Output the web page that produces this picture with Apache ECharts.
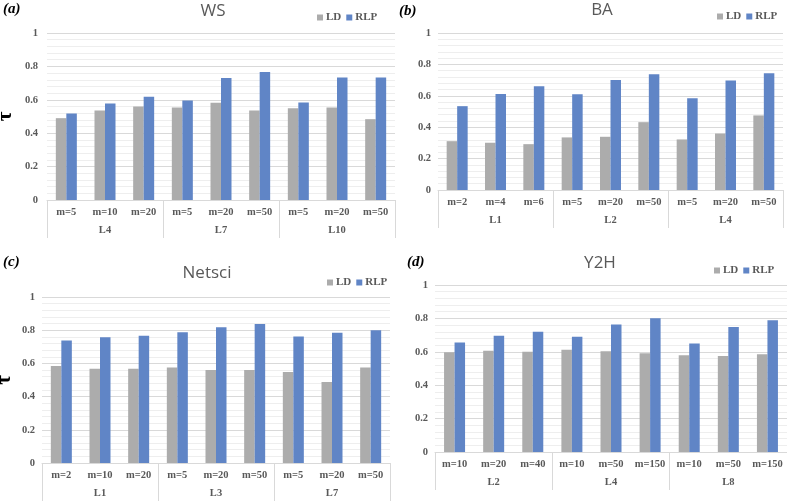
<!DOCTYPE html>
<html>
<head>
<meta charset="utf-8">
<script src="https://cdn.jsdelivr.net/npm/echarts@6/dist/echarts.min.js"></script>
<style>
html,body{margin:0;padding:0;background:#fff;}
#c{width:787px;height:502px;}
</style>
</head>
<body>
<div id="c"></div>
<script>
// ---- data ----
const seriesNames = ['LD', 'RLP'];
const yTicks = [0, 0.2, 0.4, 0.6, 0.8, 1];

const wsTitle = 'WS';
const wsCats = ['m=5', 'm=10', 'm=20', 'm=5', 'm=20', 'm=50', 'm=5', 'm=20', 'm=50'];
const wsGroups = ['L4', 'L7', 'L10'];
const wsLD = [0.490, 0.536, 0.560, 0.554, 0.582, 0.536, 0.550, 0.554, 0.484];
const wsRLP = [0.518, 0.578, 0.618, 0.596, 0.730, 0.766, 0.584, 0.734, 0.734];

const baTitle = 'BA';
const baCats = ['m=2', 'm=4', 'm=6', 'm=5', 'm=20', 'm=50', 'm=5', 'm=20', 'm=50'];
const baGroups = ['L1', 'L2', 'L4'];
const baLD = [0.311, 0.301, 0.292, 0.335, 0.339, 0.432, 0.322, 0.360, 0.475];
const baRLP = [0.534, 0.612, 0.661, 0.610, 0.701, 0.737, 0.585, 0.697, 0.744];

const nsTitle = 'Netsci';
const nsCats = ['m=2', 'm=10', 'm=20', 'm=5', 'm=20', 'm=50', 'm=5', 'm=20', 'm=50'];
const nsGroups = ['L1', 'L3', 'L7'];
const nsLD = [0.584, 0.568, 0.568, 0.576, 0.560, 0.560, 0.548, 0.488, 0.576];
const nsRLP = [0.738, 0.758, 0.766, 0.788, 0.818, 0.838, 0.762, 0.784, 0.800];

const y2Title = 'Y2H';
const y2Cats = ['m=10', 'm=20', 'm=40', 'm=10', 'm=50', 'm=150', 'm=10', 'm=50', 'm=150'];
const y2Groups = ['L2', 'L4', 'L8'];
const y2LD = [0.598, 0.606, 0.600, 0.612, 0.604, 0.592, 0.580, 0.575, 0.585];
const y2RLP = [0.656, 0.696, 0.720, 0.690, 0.763, 0.801, 0.650, 0.748, 0.789];

const panelLabels = ['(a)', '(b)', '(c)', '(d)'];

// ---- layout / style ----
const panels = [
  {title: wsTitle, cats: wsCats, groups: wsGroups, ld: wsLD, rlp: wsRLP, label: panelLabels[0],
   grid: {left: 47, top: 33, width: 348, height: 167}, ylm: 9, tau: true, tauGap: 31,
   titlePos: [213, 3], labelPos: [3, 2], legendPos: [317, 12]},
  {title: baTitle, cats: baCats, groups: baGroups, ld: baLD, rlp: baRLP, label: panelLabels[1],
   grid: {left: 438, top: 33, width: 345, height: 157}, ylm: 7, tau: false, tauGap: 30,
   titlePos: [602, 2], labelPos: [399, 4], legendPos: [717, 11]},
  {title: nsTitle, cats: nsCats, groups: nsGroups, ld: nsLD, rlp: nsRLP, label: panelLabels[2],
   grid: {left: 42, top: 297, width: 348, height: 166}, ylm: 7, tau: true, tauGap: 27,
   titlePos: [207, 265], labelPos: [3, 255], legendPos: [327, 277]},
  {title: y2Title, cats: y2Cats, groups: y2Groups, ld: y2LD, rlp: y2RLP, label: panelLabels[3],
   grid: {left: 435, top: 285, width: 352, height: 167}, ylm: 7, tau: false, tauGap: 30,
   titlePos: [600, 255], labelPos: [407, 255], legendPos: [714, 265]}
];

const LDcolor = '#acacac';
const RLPcolor = '#6085c6';
const txtColor = '#595959';
const serif = '"Liberation Serif", "DejaVu Serif", serif';
const gridCol = '#d9d9d9';

const option = {
  animation: false,
  backgroundColor: '#fff',
  title: [], legend: [], grid: [], xAxis: [], yAxis: [], series: []
};

panels.forEach((p, i) => {
  option.grid.push(Object.assign({containLabel: false, outerBoundsMode: 'none'}, p.grid));
  option.title.push({
    text: p.title, left: p.titlePos[0], top: p.titlePos[1], textAlign: 'center', padding: 0,
    textStyle: {fontFamily: '"Open Sans", sans-serif', fontWeight: 'normal', fontSize: 17, color: txtColor}
  });
  option.title.push({
    text: p.label, left: p.labelPos[0], top: p.labelPos[1], padding: 0,
    textStyle: {fontFamily: serif, fontWeight: 'bold', fontStyle: 'italic', fontSize: 15, color: '#000'}
  });
  option.legend.push({
    data: seriesNames.map(n => n + '_' + i),
    formatter: name => name.split('_')[0],
    left: p.legendPos[0], top: p.legendPos[1], padding: 0,
    icon: 'rect', itemWidth: 6, itemHeight: 6, itemGap: 5,
    textStyle: {fontFamily: serif, fontWeight: 'bold', fontSize: 11, color: txtColor, padding: [0, 0, 0, -2]}
  });
  option.xAxis.push({
    type: 'category', gridIndex: i, data: p.cats, position: 'bottom',
    axisLine: {show: true, lineStyle: {color: gridCol, width: 1}},
    axisTick: {show: false},
    axisLabel: {interval: 0, margin: 7, fontFamily: serif, fontWeight: 'bold', fontSize: 10.5, color: txtColor},
    splitLine: {show: false}
  });
  option.xAxis.push({
    type: 'category', gridIndex: i, data: p.groups, position: 'bottom',
    axisLine: {show: false},
    axisTick: {show: true, length: 38, lineStyle: {color: gridCol, width: 1}},
    axisLabel: {interval: 0, margin: 25, fontFamily: serif, fontWeight: 'bold', fontSize: 10.5, color: txtColor},
    splitLine: {show: false}
  });
  option.yAxis.push({
    type: 'value', gridIndex: i, min: yTicks[0], max: yTicks[yTicks.length - 1], interval: 0.2,
    name: p.tau ? 'τ' : '', nameLocation: 'middle', nameGap: p.tauGap, nameRotate: 90,
    nameTextStyle: {fontFamily: serif, fontWeight: 'bold', fontSize: 21, color: '#000'},
    axisLine: {show: false}, axisTick: {show: false},
    axisLabel: {margin: p.ylm, fontFamily: serif, fontWeight: 'bold', fontSize: 10.5, color: txtColor,
      formatter: v => String(+v.toFixed(1))},
    splitLine: {show: true, lineStyle: {color: gridCol, width: 1}},
    minorTick: {show: false, splitNumber: 5},
    minorSplitLine: {show: true, lineStyle: {color: '#eeeeee', width: 1}}
  });
  option.series.push({
    name: 'LD_' + i, type: 'bar', xAxisIndex: 2 * i, yAxisIndex: i, data: p.ld,
    barWidth: 10.5, barGap: '0%', itemStyle: {color: LDcolor}
  });
  option.series.push({
    name: 'RLP_' + i, type: 'bar', xAxisIndex: 2 * i, yAxisIndex: i, data: p.rlp,
    barWidth: 10.5, barGap: '0%', itemStyle: {color: RLPcolor}
  });
});

const chart = echarts.init(document.getElementById('c'));
chart.setOption(option);
</script>
</body>
</html>
